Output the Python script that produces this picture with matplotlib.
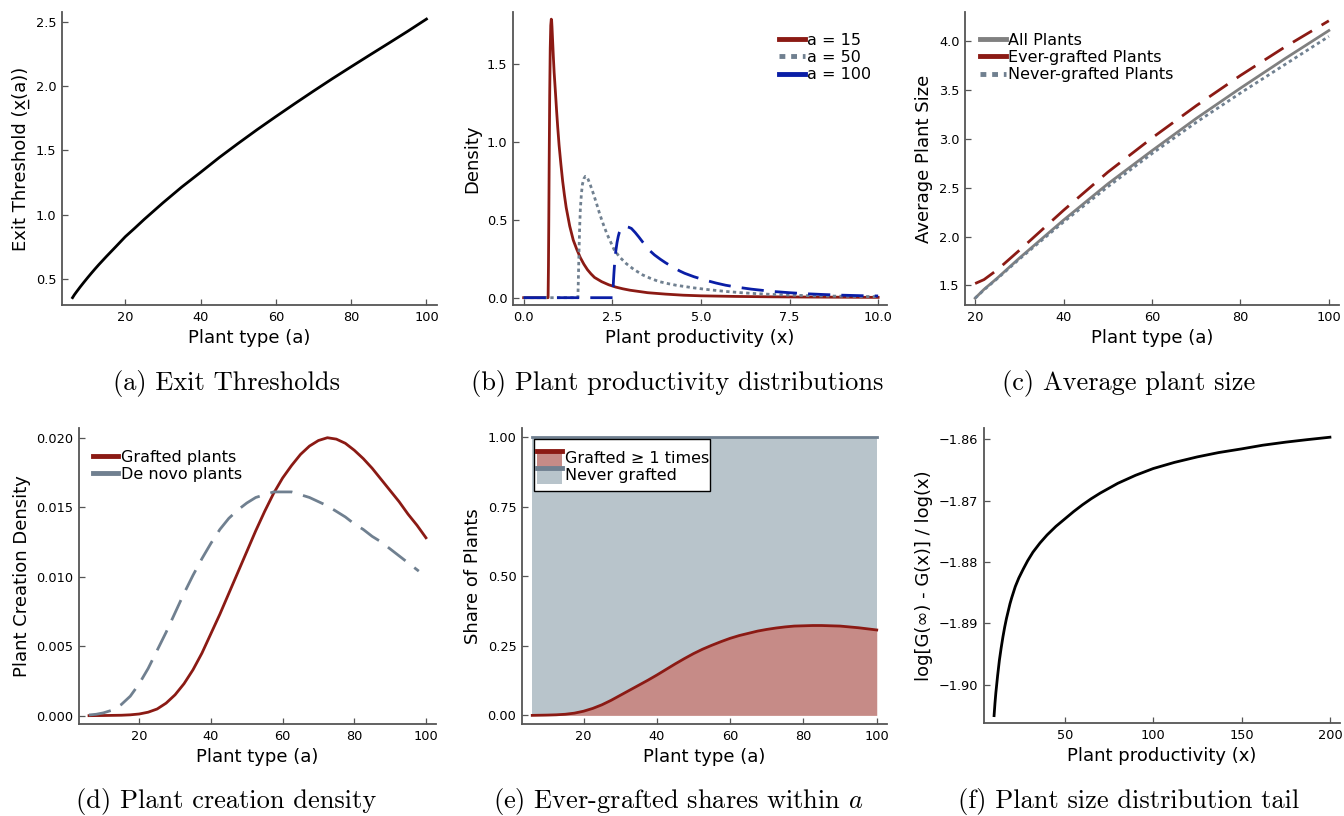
import matplotlib
matplotlib.use("Agg")
import matplotlib.pyplot as plt
from matplotlib.patches import Rectangle
from matplotlib.lines import Line2D
from matplotlib.legend_handler import HandlerBase
from matplotlib.ticker import FuncFormatter

# (a) exit thresholds
a_exit = [6, 6.5, 7, 8, 9, 10, 11, 12, 13, 15, 17.5, 20, 22.5, 25, 30, 35, 40, 45, 50, 55, 60,
          65, 70, 75, 80, 85, 90, 95, 100]
exit_thr = [0.357, 0.38, 0.40, 0.439, 0.476, 0.512, 0.547, 0.581, 0.614, 0.677, 0.753, 0.83, 0.896,
            0.964, 1.093, 1.216, 1.33, 1.446, 1.555, 1.661, 1.763, 1.863, 1.961, 2.057, 2.15, 2.242,
            2.333, 2.425, 2.52]

# (b) productivity densities
x15 = [0, 0.69, 0.70, 0.71, 0.72, 0.735, 0.75, 0.765, 0.78, 0.79, 0.80, 0.82, 0.84, 0.86, 0.88, 0.90,
       0.93, 0.96, 1.0, 1.05, 1.1, 1.15, 1.2, 1.3, 1.4, 1.5, 1.6, 1.7, 1.8, 1.9, 2.0, 2.2, 2.4, 2.6,
       2.8, 3.0, 3.5, 4.0, 4.5, 5.0, 6.0, 7.0, 8.0, 9.0, 10.0]
d15 = [0, 0, 0.2, 0.5, 0.85, 1.3, 1.6, 1.75, 1.79, 1.78, 1.74, 1.64, 1.54, 1.45, 1.38, 1.31,
       1.20, 1.10, 0.98, 0.86, 0.75, 0.66, 0.58, 0.46, 0.37, 0.31, 0.257, 0.215, 0.18, 0.153, 0.13,
       0.103, 0.083, 0.068, 0.057, 0.048, 0.032, 0.023, 0.016, 0.012, 0.008, 0.0055, 0.004, 0.003, 0.002]
x50 = [0, 1.53, 1.54, 1.56, 1.58, 1.60, 1.63, 1.66, 1.70, 1.74, 1.78, 1.82, 1.88, 1.95, 2.05, 2.15,
       2.25, 2.35, 2.45, 2.55, 2.7, 2.9, 3.1, 3.36, 3.6, 3.83, 4.1, 4.3, 4.77, 5.2, 5.71, 6.2, 6.65,
       7.1, 7.6, 8.2, 8.8, 9.4, 10.0]
d50 = [0, 0, 0.08, 0.28, 0.45, 0.57, 0.67, 0.73, 0.765, 0.78, 0.778, 0.76, 0.725, 0.68, 0.61, 0.535,
       0.47, 0.41, 0.36, 0.31, 0.263, 0.218, 0.183, 0.146, 0.122, 0.103, 0.089, 0.080, 0.064, 0.052,
       0.040, 0.031, 0.025, 0.020, 0.016, 0.012, 0.010, 0.008, 0.007]
x100 = [0, 2.52, 2.525, 2.53, 2.545, 2.56, 2.58, 2.6, 2.635, 2.67, 2.7, 2.74, 2.78, 2.82, 2.86, 2.9,
        2.97, 3.04, 3.15, 3.25, 3.35, 3.46, 3.57, 3.69, 3.85, 4.0, 4.21, 4.4, 4.54, 4.8, 5.1, 5.43,
        5.7, 6.04, 6.42, 6.7, 7.03, 7.5, 8.0, 8.5, 9.0, 9.5, 10.0]
d100 = [0, 0, 0.05, 0.09, 0.15, 0.2, 0.255, 0.30, 0.355, 0.395, 0.42, 0.44, 0.45, 0.455, 0.457, 0.456,
        0.452, 0.445, 0.418, 0.39, 0.36, 0.33, 0.30, 0.275, 0.248, 0.225, 0.196, 0.172, 0.157, 0.135,
        0.114, 0.094, 0.080, 0.067, 0.055, 0.048, 0.040, 0.032, 0.025, 0.020, 0.016, 0.013, 0.011]

# (c) average plant size
a_size = [20, 22, 25, 30, 40, 50, 60, 70, 80, 90, 100]
size_all = [1.37, 1.46, 1.575, 1.78, 2.17, 2.54, 2.88, 3.21, 3.52, 3.82, 4.11]
size_ever = [1.52, 1.56, 1.66, 1.86, 2.27, 2.66, 3.01, 3.34, 3.65, 3.94, 4.21]
size_never = [1.37, 1.455, 1.57, 1.77, 2.15, 2.51, 2.85, 3.17, 3.47, 3.76, 4.05]

# (d) plant creation density
a_create = [6, 10, 15, 17.5, 20, 22.5, 25, 27.5, 30, 32.5, 35, 37.5, 40, 42.5, 45, 47.5, 50, 52.5,
            55, 57.5, 60, 62.5, 65, 67.5, 70, 72.5, 75, 77.5, 80, 82.5, 85, 87.5, 90, 92.5, 95, 97.5, 100]
dens_grafted = [0.0, 0.00001, 0.00003, 0.00006, 0.00012, 0.00025, 0.00048, 0.0009, 0.0015, 0.0023,
                0.0033, 0.0045, 0.0059, 0.0073, 0.0088, 0.0103, 0.0118, 0.0133, 0.0147, 0.0160, 0.0171,
                0.0180, 0.0188, 0.0194, 0.0198, 0.0200, 0.0199, 0.0196, 0.0191, 0.0185, 0.0178, 0.0170,
                0.0162, 0.0154, 0.0145, 0.0137, 0.0128]
a_denovo = [6, 8, 10, 12.5, 15, 17.5, 20, 22.5, 25, 27.5, 30, 32.5, 35, 37.5, 40, 42.5, 45, 47.5, 50,
            52.5, 55, 57.5, 60, 62.5, 65, 67.5, 70, 72.5, 75, 77.5, 80, 82.5, 85, 87.5, 90, 92.5, 95, 98]
dens_denovo = [0.00005, 0.0001, 0.0002, 0.0004, 0.0008, 0.0014, 0.0023, 0.0034, 0.0047, 0.0060, 0.0074,
               0.0088, 0.0101, 0.0113, 0.0124, 0.0134, 0.0142, 0.0148, 0.0153, 0.0157, 0.0159, 0.0161,
               0.0161, 0.0161, 0.0159, 0.0157, 0.0154, 0.0151, 0.0147, 0.0143, 0.0138, 0.0134, 0.0129,
               0.0125, 0.0120, 0.0115, 0.0110, 0.0104]

# (e) ever-grafted shares
a_share = [6, 10, 12.5, 15, 17.5, 20, 22.5, 25, 27.5, 30, 32.5, 35, 37.5, 40, 42.5, 45, 47.5, 50,
           52.5, 55, 57.5, 60, 62.5, 65, 67.5, 70, 72.5, 75, 77.5, 80, 82.5, 85, 87.5, 90, 92.5, 95,
           97.5, 100]
share_grafted = [0.0, 0.001, 0.002, 0.004, 0.008, 0.015, 0.025, 0.038, 0.054, 0.072, 0.09, 0.108,
                 0.126, 0.145, 0.165, 0.185, 0.204, 0.222, 0.238, 0.252, 0.265, 0.277, 0.287, 0.295,
                 0.303, 0.309, 0.314, 0.318, 0.321, 0.322, 0.323, 0.323, 0.322, 0.321, 0.318, 0.315,
                 0.311, 0.307]

# (f) size distribution tail
x_tail = [10, 10.5, 11, 12, 13, 14, 15, 16, 17, 18, 19, 20, 22, 24, 26.6, 29, 32, 36, 40, 45, 50,
          55, 60, 65, 70, 75, 80, 90, 100, 112, 125, 137, 150, 162, 175, 187, 200]
tail_ratio = [-1.905, -1.903, -1.9013, -1.8985, -1.896, -1.894, -1.8922, -1.8906, -1.8892, -1.888,
              -1.8868, -1.8858, -1.884, -1.8826, -1.8811, -1.8798, -1.8784, -1.8769, -1.8756, -1.8742,
              -1.8730, -1.8718, -1.8707, -1.8697, -1.8688, -1.8680, -1.8672, -1.8659, -1.8648, -1.8638,
              -1.8629, -1.8622, -1.8616, -1.8610, -1.8605, -1.8601, -1.8597]

RED = "#8b1a14"
SLATE = "#708090"
BLUE = "#0a1ea6"
GREY = "#808080"
RED_FILL = "#c68b87"
SLATE_FILL = "#b8c4cb"
SPINE = "#555555"

W, H = 1344, 816
fig = plt.figure(figsize=(W / 100, H / 100), dpi=100)


def make_ax(left, top, right, bottom):
    ax = fig.add_axes([left / W, 1 - bottom / H, (right - left) / W, (bottom - top) / H])
    for s in ["top", "right"]:
        ax.spines[s].set_visible(False)
    for s in ["left", "bottom"]:
        ax.spines[s].set_color(SPINE)
        ax.spines[s].set_linewidth(1.3)
    ax.tick_params(direction="in", length=4, width=0.9, color=SPINE, labelsize=9.3, pad=4)
    return ax


def caption(x, y, text):
    fig.text(x / W, 1 - y / H, text, ha="center", va="baseline", fontsize=19, family="cmr10")


def line_legend(ax, x0, y0, solid=()):
    leg = ax.legend(loc="upper left", bbox_to_anchor=(x0, y0), frameon=False, fontsize=11.5,
                    borderpad=0, borderaxespad=0, handlelength=1.6, handletextpad=0.15,
                    labelspacing=0.15)
    for i, h in enumerate(leg.get_lines()):
        h.set_linewidth(3.5)
        if i in solid:
            h.set_linestyle("-")
    return leg


plt.rcParams["mathtext.fontset"] = "cm"
LAB = 13
LW = 2.0

# (a)
ax = make_ax(62, 12, 437, 305)
ax.plot(a_exit, exit_thr, color="black", lw=LW)
ax.set_xlim(3.2, 102.8)
ax.set_ylim(0.30, 2.575)
ax.set_xticks([20, 40, 60, 80, 100])
ax.set_yticks([0.5, 1.0, 1.5, 2.0, 2.5])
ax.set_xlabel("Plant type (a)", fontsize=LAB)
ax.set_ylabel("Exit Threshold (x\u0332(a))", fontsize=LAB)

# (b)
ax = make_ax(513, 12, 887, 305)
ax.plot(x15, d15, color=RED, lw=LW, label="a = 15")
ax.plot(x50, d50, color=SLATE, lw=LW, ls=(0, (1.2, 1.2)), label="a = 50")
ax.plot(x100, d100, color=BLUE, lw=LW, ls=(0, (8, 4)), label="a = 100")
ax.set_xlim(-0.3, 10.25)
ax.set_ylim(-0.047, 1.836)
ax.set_xticks([0, 2.5, 5.0, 7.5, 10.0])
ax.set_xticklabels(["0.0", "2.5", "5.0", "7.5", "10.0"])
ax.set_yticks([0.0, 0.5, 1.0, 1.5])
ax.set_xlabel("Plant productivity (x)", fontsize=LAB)
ax.set_ylabel("Density", fontsize=LAB)
line_legend(ax, 0.712, 0.93, solid=(2,))

# (c)
ax = make_ax(965, 12, 1339, 305)
ax.plot(a_size, size_all, color=GREY, lw=LW, label="All Plants")
ax.plot(a_size, size_ever, color=RED, lw=LW, ls=(0, (8, 4)), label="Ever-grafted Plants")
ax.plot(a_size, size_never, color=SLATE, lw=LW, ls=(0, (1.2, 1.2)), label="Never-grafted Plants")
ax.set_xlim(17.7, 102.3)
ax.set_ylim(1.30, 4.30)
ax.set_xticks([20, 40, 60, 80, 100])
ax.set_yticks([1.5, 2.0, 2.5, 3.0, 3.5, 4.0])
ax.set_xlabel("Plant type (a)", fontsize=LAB)
ax.set_ylabel("Average Plant Size", fontsize=LAB)
line_legend(ax, 0.041, 0.93, solid=(1,))

# (d)
ax = make_ax(79, 428, 436, 724)
ax.plot(a_create, dens_grafted, color=RED, lw=LW, label="Grafted plants")
ax.plot(a_denovo, dens_denovo, color=SLATE, lw=LW, ls=(0, (8, 4)), label="De novo plants")
ax.set_xlim(3.2, 102.8)
ax.set_ylim(-0.0006, 0.0207)
ax.set_xticks([20, 40, 60, 80, 100])
ax.set_yticks([0.0, 0.005, 0.010, 0.015, 0.020])
ax.yaxis.set_major_formatter(FuncFormatter(lambda v, p: f"{v:.3f}"))
ax.set_xlabel("Plant type (a)", fontsize=LAB)
ax.set_ylabel("Plant Creation Density", fontsize=LAB)
line_legend(ax, 0.038, 0.927, solid=(0, 1))


# (e)
class ShareKey:
    def __init__(self, fill, line):
        self.fill = fill
        self.line = line


class ShareKeyHandler(HandlerBase):
    def create_artists(self, legend, orig, xdescent, ydescent, width, height, fontsize, trans):
        r = Rectangle((-xdescent, -ydescent - 2), width, height + 2, facecolor=orig.fill,
                      edgecolor="none", transform=trans)
        ln = Line2D([-xdescent, -xdescent + width], [height - ydescent, height - ydescent],
                    color=orig.line, lw=3.5, transform=trans)
        return [r, ln]


ax = make_ax(522, 428, 887, 724)
ax.fill_between(a_share, [0] * len(a_share), [1] * len(a_share), color=SLATE_FILL, lw=0)
ax.plot(a_share, [1] * len(a_share), color=SLATE, lw=LW)
ax.fill_between(a_share, [0] * len(a_share), share_grafted, color=RED_FILL, lw=0)
ax.plot(a_share, share_grafted, color=RED, lw=LW)
ax.set_xlim(3.2, 102.8)
ax.set_ylim(-0.031, 1.033)
ax.set_xticks([20, 40, 60, 80, 100])
ax.set_yticks([0.0, 0.25, 0.5, 0.75, 1.0])
ax.yaxis.set_major_formatter(FuncFormatter(lambda v, p: f"{v:.2f}"))
ax.set_xlabel("Plant type (a)", fontsize=LAB)
ax.set_ylabel("Share of Plants", fontsize=LAB)
# legend box drawn by hand: wider vertical than horizontal padding
ax.add_patch(Rectangle((0.033, 0.788), 0.482, 0.175, transform=ax.transAxes, facecolor="white",
                       edgecolor="black", lw=1.0, zorder=4, clip_on=False))
leg = ax.legend([ShareKey(RED_FILL, RED), ShareKey(SLATE_FILL, SLATE)],
                ["Grafted \u2265 1 times", "Never grafted"],
                handler_map={ShareKey: ShareKeyHandler()},
                loc="upper left", bbox_to_anchor=(0.040, 0.922), fontsize=11.5, frameon=False,
                borderpad=0, borderaxespad=0, handlelength=1.6, handleheight=0.9,
                handletextpad=0.15, labelspacing=0.1)
leg.set_zorder(5)

# (f)
ax = make_ax(984, 428, 1340, 723)
ax.plot(x_tail, tail_ratio, color="black", lw=LW)
ax.set_xlim(4.3, 205.7)
ax.set_ylim(-1.9062, -1.8582)
ax.set_xticks([50, 100, 150, 200])
ax.set_yticks([-1.90, -1.89, -1.88, -1.87, -1.86])
ax.yaxis.set_major_formatter(FuncFormatter(lambda v, p: f"{v:.2f}".replace("-", "\u2212")))
ax.set_xlabel("Plant productivity (x)", fontsize=LAB)
ax.set_ylabel("log[G(\u221e) - G(x)] / log(x)", fontsize=LAB)

# captions
caption(226, 390, "(a) Exit Thresholds")
caption(677, 390, "(b) Plant productivity distributions")
caption(1129, 390, "(c) Average plant size")
caption(226, 808, "(d) Plant creation density")
caption(678, 808, r"(e) Ever-grafted shares within $a$")
caption(1129, 808, "(f) Plant size distribution tail")

fig.savefig("out.png", dpi=100)
